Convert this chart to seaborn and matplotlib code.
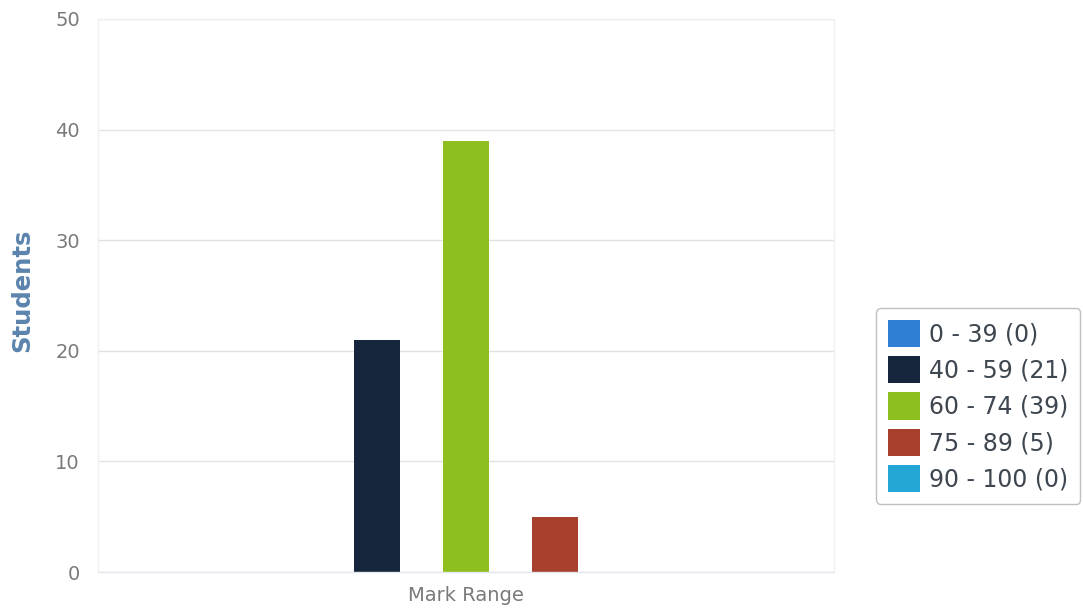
import matplotlib
matplotlib.use("Agg")
import matplotlib.pyplot as plt
import seaborn as sns
import pandas as pd

# ---- data ----
category = "Mark Range"
ranges = ["0 - 39", "40 - 59", "60 - 74", "75 - 89", "90 - 100"]
students = [0, 21, 39, 5, 0]
colors = ["#2f7fd4", "#14253c", "#8dbf1f", "#a8402e", "#24a6d6"]
yticks = [0, 10, 20, 30, 40, 50]

labels = [f"{r} ({c})" for r, c in zip(ranges, students)]
df = pd.DataFrame({"category": [category] * len(ranges),
                   "series": labels,
                   "value": students})

sns.set_theme(style="white")
plt.rcParams["font.family"] = ["DejaVu Sans"]

fig = plt.figure(figsize=(10.83, 6.11), dpi=100)
ax = fig.add_axes([98 / 1083, 1 - 572 / 611, (834 - 98) / 1083, (572 - 19) / 611])

sns.barplot(data=df, x="category", y="value", hue="series", hue_order=labels,
            palette=colors, width=0.604, gap=0.48, saturation=1,
            linewidth=0, ax=ax, legend=True)

ax.set_xlim(-0.5, 0.5)
ax.set_ylim(0, 50)
ax.set_yticks(yticks)
ax.set_yticklabels([str(t) for t in yticks])
ax.yaxis.grid(True, color="#e2e2e2", linewidth=1)
ax.set_axisbelow(True)
for s in ax.spines.values():
    s.set_color("#f0f0f0")
    s.set_linewidth(1)
ax.spines["bottom"].set_color("#e4e8ee")

ax.tick_params(axis="y", labelsize=14, labelcolor="#7a7a7a", length=0, pad=13)
ax.tick_params(axis="x", labelsize=14, labelcolor="#7a7a7a", length=0, pad=10)
ax.set_xlabel("")
ax.set_ylabel("Students", fontsize=17.5, fontweight="bold", color="#5b84ad")
ax.yaxis.set_label_coords((34 - 98) / 736, (572 - 290) / 553)

handles, lbls = ax.get_legend_handles_labels()
ax.get_legend().remove()
leg = fig.legend(handles, lbls, loc="upper left",
                 bbox_to_anchor=(876 / 1083, 1 - 308 / 611),
                 fontsize=17, frameon=True, fancybox=True,
                 handlelength=1.35, handleheight=1.4, handletextpad=0.4,
                 labelspacing=0.38, borderpad=0.5, borderaxespad=0)
leg.get_frame().set_edgecolor("#b0b0b0")
leg.get_frame().set_linewidth(1)
for t in leg.get_texts():
    t.set_color("#3e4650")

fig.savefig("out.png", dpi=100)
